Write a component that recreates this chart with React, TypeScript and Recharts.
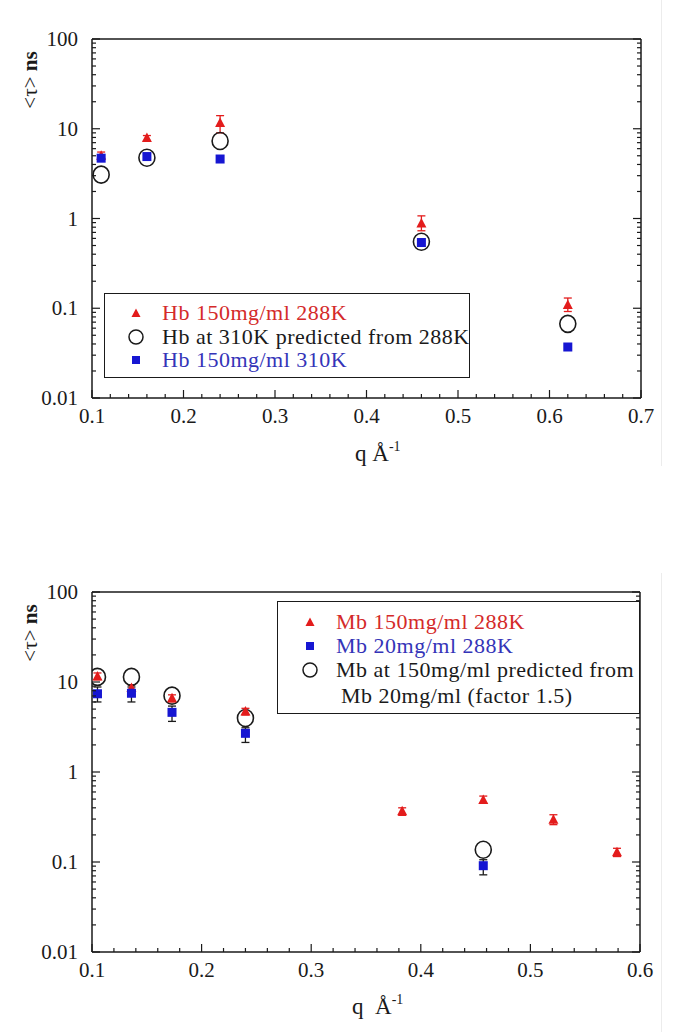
import React from "react";
import { ScatterChart, Scatter, XAxis, YAxis, ErrorBar } from "recharts";

const SERIF = "Liberation Serif";
const RED = "#e31c1c";
const BLUE = "#1616d2";
const INK = "#1a1a1a";

// top panel: Hb
const hbQ = [0.11, 0.16, 0.24, 0.46, 0.62];
const hb288 = [5.0, 7.9, 11.6, 0.88, 0.109];
const hb288Low = [4.7, 7.4, 9.0, 0.73, 0.092];
const hb288High = [5.5, 8.4, 14.0, 1.07, 0.13];
const hbPred = [3.08, 4.76, 7.3, 0.55, 0.067];
const hb310 = [4.7, 4.9, 4.6, 0.54, 0.037];

// bottom panel: Mb
const mb150Q = [0.105, 0.136, 0.173, 0.24, 0.383, 0.457, 0.521, 0.579];
const mb150 = [11.5, 8.6, 6.6, 4.7, 0.366, 0.49, 0.295, 0.128];
const mb150Low = [10.6, 8.0, 6.0, 4.3, 0.33, 0.45, 0.26, 0.115];
const mb150High = [12.6, 9.3, 7.2, 5.1, 0.4, 0.54, 0.335, 0.142];
const mb20Q = [0.105, 0.136, 0.173, 0.24, 0.457];
const mb20 = [7.4, 7.5, 4.6, 2.69, 0.091];
const mb20Low = [6.0, 6.0, 3.65, 2.13, 0.072];
const mb20High = [8.8, 8.8, 5.4, 3.1, 0.106];
const mbPredQ = [0.105, 0.136, 0.173, 0.24, 0.457];
const mbPred = [11.4, 11.4, 7.05, 3.98, 0.137];

// axes
const yMajor = [0.01, 0.1, 1, 10, 100];
const topXMajor = [0.1, 0.2, 0.3, 0.4, 0.5, 0.6, 0.7];
const botXMajor = [0.1, 0.2, 0.3, 0.4, 0.5, 0.6];

const yTicks: number[] = [];
yMajor.forEach((m, i) => {
  yTicks.push(m);
  if (i < yMajor.length - 1) for (let k = 2; k <= 9; k++) yTicks.push(+(m * k).toPrecision(3));
});
const xTicksFor = (majors: number[]) => {
  const out: number[] = [];
  const lo = Math.round(majors[0] * 100);
  const hi = Math.round(majors[majors.length - 1] * 100);
  for (let v = lo; v <= hi; v += 2) out.push(v / 100);
  return out;
};
const topXTicks = xTicksFor(topXMajor);
const botXTicks = xTicksFor(botXMajor);

const isMajor = (majors: number[], v: number) => majors.some((m) => Math.abs(m - v) < 1e-9);

const makeTick = (side: string, majors: number[]) => (props: any) => {
  const { x, y, payload } = props;
  const v = payload.value;
  const major = isMajor(majors, v);
  const len = major ? 8 : 4;
  let line;
  if (side === "left") line = <line x1={x} y1={y} x2={x + len} y2={y} stroke={INK} strokeWidth={1.2} />;
  else if (side === "right") line = <line x1={x} y1={y} x2={x - len} y2={y} stroke={INK} strokeWidth={1.2} />;
  else if (side === "top") line = <line x1={x} y1={y} x2={x} y2={y + len} stroke={INK} strokeWidth={1.2} />;
  else line = <line x1={x} y1={y} x2={x} y2={y - len} stroke={INK} strokeWidth={1.2} />;
  let label = null;
  if (major && side === "left")
    label = (
      <text
        x={x - 14}
        y={y}
        dy="0.34em"
        textAnchor="end"
        fontFamily={SERIF}
        fontSize={21}
        style={{ fontFamily: SERIF, fontSize: 21 }}
        fill={INK}
      >
        {String(v)}
      </text>
    );
  if (major && side === "bottom")
    label = (
      <text
        x={x}
        y={y + 25}
        textAnchor="middle"
        fontFamily={SERIF}
        fontSize={21}
        style={{ fontFamily: SERIF, fontSize: 21 }}
        fill={INK}
      >
        {String(v)}
      </text>
    );
  return (
    <g>
      {line}
      {label}
    </g>
  );
};

const Tri = (p: any) => (
  <polygon
    points={`${p.cx},${p.cy - 5.5} ${p.cx - 5},${p.cy + 4} ${p.cx + 5},${p.cy + 4}`}
    fill={RED}
  />
);
const Sq = (p: any) => <rect x={p.cx - 4.5} y={p.cy - 4.5} width={9} height={9} fill={BLUE} />;
const Ring = (p: any) => (
  <ellipse cx={p.cx} cy={p.cy} rx={8} ry={8.5} fill="none" stroke={INK} strokeWidth={1.6} />
);

const withErr = (qs: number[], vs: number[], lo?: number[], hi?: number[]) =>
  qs.map((q, i) => ({
    q,
    t: vs[i],
    err: lo && hi ? [vs[i] - lo[i], hi[i] - vs[i]] : [0, 0],
  }));

const axisLine = { stroke: INK, strokeWidth: 1.5 };

function LegendRow(props: { y: number; x: number; tx: number; marker: React.ReactNode; color: string; text: string }) {
  return (
    <div
      style={{
        position: "absolute",
        left: 0,
        top: props.y - 12,
        height: 24,
        width: "100%",
      }}
    >
      <svg width={20} height={24} style={{ position: "absolute", left: props.x - 10, top: 0 }}>
        {props.marker}
      </svg>
      <span
        style={{
          position: "absolute",
          left: props.tx,
          top: 0,
          lineHeight: "24px",
          fontFamily: SERIF,
          fontSize: 22,
          letterSpacing: 0.5,
          color: props.color,
          whiteSpace: "nowrap",
        }}
      >
        {props.text}
      </span>
    </div>
  );
}

const legTri = <polygon points="10,7.5 5.5,16 14.5,16" fill={RED} />;
const legSq = <rect x={6} y={8} width={8} height={8} fill={BLUE} />;
const legRing = <circle cx={10} cy={12} r={7} fill="none" stroke={INK} strokeWidth={1.5} />;

function YLabel(props: { cx: number; cy: number }) {
  return (
    <svg
      width={40}
      height={90}
      style={{ position: "absolute", left: props.cx - 20, top: props.cy - 45 }}
    >
      <text
        transform="translate(27,45) rotate(-90)"
        textAnchor="middle"
        fontFamily={SERIF}
        fontSize={21}
        style={{ fontFamily: SERIF, fontSize: 21 }}
        fill={INK}
      >
        {"<τ> "}
        <tspan fontWeight="bold" style={{ fontWeight: "bold" }}>
          ns
        </tspan>
      </text>
    </svg>
  );
}

function XLabel(props: { left: number; baseline: number; gap: string }) {
  return (
    <div
      style={{
        position: "absolute",
        left: props.left,
        top: props.baseline - 20,
        fontFamily: SERIF,
        fontSize: 23,
        lineHeight: "24px",
        color: INK,
        whiteSpace: "pre",
      }}
    >
      {"q" + props.gap + "Å"}
      <sup style={{ fontSize: 14, verticalAlign: "10px" }}>-1</sup>
    </div>
  );
}

export default function App() {
  const hbTri = withErr(hbQ, hb288, hb288Low, hb288High);
  const hbRing = withErr(hbQ, hbPred);
  const hbSq = withErr(hbQ, hb310);
  const mbTri = withErr(mb150Q, mb150, mb150Low, mb150High);
  const mbSq = withErr(mb20Q, mb20, mb20Low, mb20High);
  const mbRing = withErr(mbPredQ, mbPred);

  const axesFor = (xTicks: number[], xMajor: number[], xDomain: number[]) => [
    <XAxis
      key="xb"
      xAxisId="b"
      dataKey="q"
      type="number"
      domain={xDomain}
      ticks={xTicks}
      interval={0}
      height={1}
      tickSize={0}
      tickMargin={0}
      axisLine={axisLine}
      tickLine={false}
      tick={makeTick("bottom", xMajor)}
      allowDataOverflow
    />,
    <XAxis
      key="xt"
      xAxisId="t"
      orientation="top"
      type="number"
      domain={xDomain}
      ticks={xTicks}
      interval={0}
      height={1}
      tickSize={0}
      tickMargin={0}
      axisLine={axisLine}
      tickLine={false}
      tick={makeTick("top", xMajor)}
      allowDataOverflow
    />,
    <YAxis
      key="yl"
      yAxisId="l"
      dataKey="t"
      type="number"
      scale="log"
      domain={[0.01, 100]}
      ticks={yTicks}
      interval={0}
      width={1}
      tickSize={0}
      tickMargin={0}
      axisLine={axisLine}
      tickLine={false}
      tick={makeTick("left", yMajor)}
      allowDataOverflow
    />,
    <YAxis
      key="yr"
      yAxisId="r"
      orientation="right"
      type="number"
      scale="log"
      domain={[0.01, 100]}
      ticks={yTicks}
      interval={0}
      width={1}
      tickSize={0}
      tickMargin={0}
      axisLine={axisLine}
      tickLine={false}
      tick={makeTick("right", yMajor)}
      allowDataOverflow
    />,
  ];

  return (
    <div
      style={{
        position: "absolute",
        left: 0,
        top: 0,
        width: 685,
        height: 1032,
        background: "#fff",
        overflow: "hidden",
      }}
    >
      {/* faint page edge */}
      <div style={{ position: "absolute", left: 661, top: 0, width: 1, height: 466, background: "#ececec" }} />
      <div style={{ position: "absolute", left: 661, top: 573, width: 1, height: 459, background: "#ececec" }} />

      {/* top panel */}
      <div style={{ position: "absolute", left: 0, top: 0 }}>
        <ScatterChart width={685} height={480} margin={{ top: 38, right: 43, bottom: 81, left: 91 }}>
          {axesFor(topXTicks, topXMajor, [0.1, 0.7])}
          <Scatter xAxisId="b" yAxisId="l" data={hbTri} shape={Tri} isAnimationActive={false}>
            <ErrorBar dataKey="err" direction="y" width={4} stroke={RED} strokeWidth={1.3} />
          </Scatter>
          <Scatter xAxisId="b" yAxisId="l" data={hbRing} shape={Ring} isAnimationActive={false} />
          <Scatter xAxisId="b" yAxisId="l" data={hbSq} shape={Sq} isAnimationActive={false} />
        </ScatterChart>
      </div>
      <YLabel cx={30} cy={80} />
      <XLabel left={355} baseline={455} gap=" " />
      <div
        style={{
          position: "absolute",
          left: 104,
          top: 293,
          width: 364,
          height: 83,
          border: `1.5px solid ${INK}`,
          background: "#fff",
        }}
      >
        <LegendRow y={19} x={31} tx={57} marker={legTri} color="#d42a2a" text="Hb 150mg/ml 288K" />
        <LegendRow y={43} x={31} tx={57} marker={legRing} color={INK} text="Hb at 310K predicted from 288K" />
        <LegendRow y={66} x={31} tx={57} marker={legSq} color="#3434b8" text="Hb 150mg/ml 310K" />
      </div>

      {/* bottom panel */}
      <div style={{ position: "absolute", left: 0, top: 540 }}>
        <ScatterChart width={685} height={492} margin={{ top: 51, right: 44, bottom: 79, left: 91 }}>
          {axesFor(botXTicks, botXMajor, [0.1, 0.6])}
          <Scatter xAxisId="b" yAxisId="l" data={mbRing} shape={Ring} isAnimationActive={false} />
          <Scatter xAxisId="b" yAxisId="l" data={mbTri} shape={Tri} isAnimationActive={false}>
            <ErrorBar dataKey="err" direction="y" width={4} stroke={RED} strokeWidth={1.3} />
          </Scatter>
          <Scatter xAxisId="b" yAxisId="l" data={mbSq} shape={Sq} isAnimationActive={false}>
            <ErrorBar dataKey="err" direction="y" width={4} stroke={INK} strokeWidth={1.3} />
          </Scatter>
        </ScatterChart>
      </div>
      <YLabel cx={30} cy={633} />
      <XLabel left={352} baseline={1008} gap="  " />
      <div
        style={{
          position: "absolute",
          left: 277,
          top: 601,
          width: 361,
          height: 111,
          border: `1.5px solid ${INK}`,
          background: "#fff",
        }}
      >
        <LegendRow y={20} x={32} tx={58} marker={legTri} color="#d42a2a" text="Mb 150mg/ml 288K" />
        <LegendRow y={44} x={32} tx={58} marker={legSq} color="#3434b8" text="Mb 20mg/ml 288K" />
        <LegendRow y={68} x={32} tx={58} marker={legRing} color={INK} text="Mb at 150mg/ml predicted from" />
        <LegendRow y={94} x={32} tx={63} marker={null} color={INK} text="Mb 20mg/ml (factor 1.5)" />
      </div>
    </div>
  );
}
